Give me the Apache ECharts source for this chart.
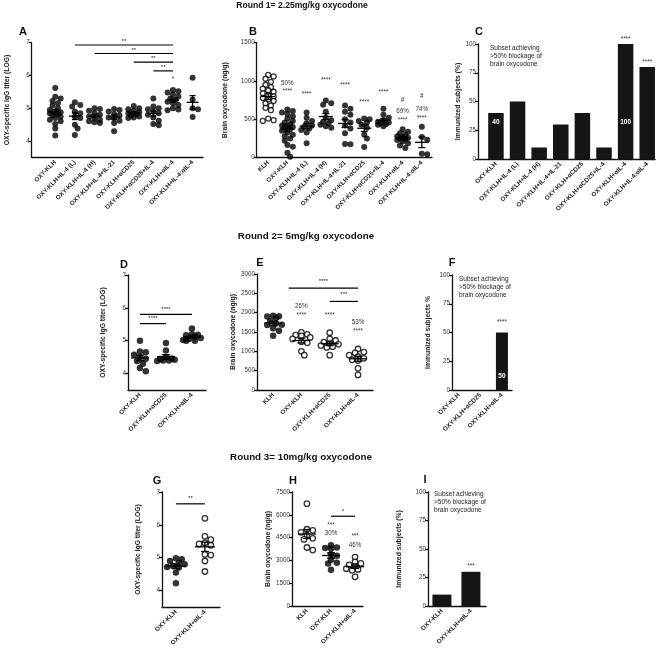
<!DOCTYPE html>
<html><head><meta charset="utf-8">
<script src="https://cdn.jsdelivr.net/npm/echarts@6/dist/echarts.min.js"></script>
<style>html,body{margin:0;padding:0;background:#fff}#c{width:659px;height:649px}</style>
</head><body><div id="c"></div><script>
// ---------------- DATA ----------------
const catsA = ['OXY-KLH','OXY-KLH+IL-4 (L)','OXY-KLH+IL-4 (H)','OXY-KLH+IL-4+IL-21','OXY-KLH+αCD25','OXY-KLH+αCD25+IL-4','OXY-KLH+αIL-4','OXY-KLH+IL-4:αIL-4'];
const titerA = [
  [5.62,5.35,5.3,5.22,5.15,5.08,5.0,4.95,4.9,4.88,4.85,4.82,4.78,4.74,4.7,4.65,4.6,4.52,4.38,4.17],
  [5.18,5.1,5.05,4.9,4.85,4.75,4.7,4.5,4.38,4.18],
  [5.0,4.98,4.92,4.85,4.8,4.75,4.7,4.65,4.6,4.57,4.55],
  [4.98,4.95,4.9,4.82,4.78,4.72,4.7,4.62,4.55,4.3],
  [5.07,5.0,4.97,4.92,4.88,4.85,4.82,4.78,4.75,4.72,4.7],
  [5.3,5.05,5.0,4.97,4.9,4.85,4.8,4.72,4.62,4.52,4.48],
  [5.56,5.52,5.48,5.42,5.36,5.3,5.25,5.2,5.15,5.1,5.0,4.96,4.94],
  [5.93,5.27,5.0,4.97,4.73]
];
const bracketsA = [[1,6,6.93,'**'],[2,6,6.67,'**'],[4,6,6.41,'**'],[5,6,6.14,'**']];
const annotA = [[6,5.88,'*']];

const catsB = ['KLH','OXY-KLH','OXY-KLH+IL-4 (L)','OXY-KLH+IL-4 (H)','OXY-KLH+IL-4+IL-21','OXY-KLH+αCD25','OXY-KLH+αCD25+IL-4','OXY-KLH+αIL-4','OXY-KLH+IL-4:αIL-4'];
const oxyB = [
  [1080,1060,1030,990,950,920,900,880,860,840,820,800,780,760,740,710,680,650,620,510,490,480],
  [630,610,590,570,540,510,480,460,440,420,410,400,390,370,350,330,300,280,250,220,165,143,65,13],
  [590,520,480,450,420,400,380,360,330,190],
  [745,710,690,600,520,490,470,450,430,410,390],
  [680,640,600,560,500,460,420,380,320,180,175],
  [510,500,480,460,430,390,300,250,140],
  [640,560,520,490,470,460,450,440,430,410],
  [370,340,320,300,280,270,260,250,240,230,210,190,160,125],
  [404,270,235,50,45]
];
const annotB = [[1,970,'50%'],[1,861,'****'],[2,830,'****'],[3,1004,'****'],[4,939,'****'],[5,717,'****'],[6,848,'****'],[7,752,'#'],[7,609,'69%'],[7,491,'****'],[8,796,'#'],[8,635,'74%'],[8,517,'****']];

const catsC = catsA;
const pctC = [40,50,10,30,40,10,100,80];
const annotC = [[0,32,'40','w'],[6,32,'100','w'],[6,104,'****'],[7,84.5,'****']];

const catsD = ['OXY-KLH','OXY-KLH+αCD25','OXY-KLH+αIL-4'];
const titerD = [
  [5.0,4.67,4.65,4.57,4.5,4.45,4.38,4.3,4.17,4.07],
  [4.93,4.7,4.5,4.46,4.44,4.42,4.4,4.4,4.38],
  [5.37,5.2,5.18,5.17,5.12,5.08,5.05,5.02,5.0,5.0]
];
const bracketsD = [[0,1,5.52,'****'],[0,2,5.8,'****']];

const catsE = ['KLH','OXY-KLH','OXY-KLH+αCD25','OXY-KLH+αIL-4'];
const oxyE = [
  [1920,1910,1900,1860,1780,1720,1690,1680,1600,1530,1400],
  [1490,1440,1420,1400,1360,1320,1250,1220,1000,900],
  [1480,1320,1280,1240,1200,1180,1150,1120,1100,900],
  [1060,980,960,900,860,820,780,760,560,390]
];
const bracketsE = [[0.55,3,2637,'****'],[2,3,2291,'***']];
const annotE = [[1,2178,'26%'],[1,1945,'****'],[2,1945,'****'],[3,1755,'53%'],[3,1513,'****']];

const catsF = ['OXY-KLH','OXY-KLH+αCD25','OXY-KLH+αIL-4'];
const pctF = [0,0,50];
const annotF = [[2,59,'****'],[2,12,'50','w']];

const catsG = ['OXY-KLH','OXY-KLH+αIL-4'];
const titerG = [
  [4.98,4.95,4.9,4.85,4.8,4.75,4.72,4.7,4.55,4.22],
  [6.2,5.65,5.55,5.45,5.42,5.38,5.1,5.08,4.9,4.58]
];
const bracketsG = [[0,1,6.64,'**']];

const catsH = ['KLH','OXY-KLH','OXY-KLH+αIL-4'];
const oxyH = [
  [6730,5050,4980,4850,4650,4450,4380,3850,3680],
  [4000,3850,3820,3780,3400,3300,3050,2850,2800,2380],
  [3220,2900,2800,2700,2600,2500,2450,2400,2350,1920]
];
const bracketsH = [[1,2,5905,'*']];
const annotH = [[1,5315,'***'],[1,4768,'30%'],[2,4593,'***'],[2,4002,'46%']];

const catsI = ['OXY-KLH','OXY-KLH+αIL-4'];
const pctI = [10,30];
const annotI = [[1,35,'***']];

const roundTitles = ['Round 1= 2.25mg/kg oxycodone','Round 2= 5mg/kg oxycodone','Round 3= 10mg/kg oxycodone'];
const subsetText = 'Subset achieving\n>50% blockage of\nbrain oxycodone';
const titerName = 'OXY-specific IgG titer (LOG)';
const oxyName = 'Brain oxycodone (ng/g)';

// ---------------- LAYOUT ----------------
const FONT = '"Liberation Sans", Arial, Helvetica, sans-serif';
const panels = [
  {L:'A',kind:'dot',cats:catsA,groups:titerA,open:[0,0,0,0,0,0,0,0],yName:titerName,left:31.7,top:42.7,width:171.3,height:114.7,xMin:-1.2,xMax:7.53,yMin:3.5,yMax:7,yTicks:[4,5,6,7],nameGap:21,dot:6,spread:8,mh:6,ch:3,brackets:bracketsA,bGap:3.5,annots:annotA,letter:[23,32]},
  {L:'B',kind:'dot',cats:catsB,groups:oxyB,open:[1,0,0,0,0,0,0,0,0],yName:oxyName,left:256.7,top:42.7,width:175.3,height:115,xMin:-0.6,xMax:8.53,yMin:0,yMax:1500,interval:500,nameGap:28,dot:6,spread:8,mh:7,ch:3.5,brackets:[],annots:annotB,letter:[253,32]},
  {L:'C',kind:'bar',cats:catsC,vals:pctC,yName:'Immunized subjects (%)',left:478,top:44,width:177,height:115,xMin:-0.83,xMax:7.36,yMin:0,yMax:100,interval:25,nameGap:14,barW:15.5,annots:annotC,letter:[479,32],subset:[490,48]},
  {L:'D',kind:'dot',cats:catsD,groups:titerD,open:[0,0,0],yName:titerName,left:128,top:275,width:78,height:115,xMin:-0.46,xMax:2.54,yMin:3.5,yMax:7,yTicks:[4,5,6,7],nameGap:21,dot:6.5,spread:9,mh:9,ch:4,brackets:bracketsD,bGap:5,annots:[],letter:[124,265]},
  {L:'E',kind:'dot',cats:catsE,groups:oxyE,open:[0,1,1,1],yName:oxyName,left:257,top:274,width:116,height:116,xMin:-0.57,xMax:3.53,yMin:0,yMax:3000,interval:500,nameGap:20,dot:6.5,spread:11,mh:9,ch:4,brackets:bracketsE,bGap:7,annots:annotE,letter:[260,263]},
  {L:'F',kind:'bar',cats:catsF,vals:pctF,yName:'Immunized subjects %',left:452,top:275,width:60,height:115,xMin:-0.33,xMax:2.47,yMin:0,yMax:100,interval:25,nameGap:20,barW:12,annots:annotF,letter:[452,263],subset:[459,279]},
  {L:'G',kind:'dot',cats:catsG,groups:titerG,open:[0,1],yName:titerName,left:162,top:492,width:58,height:115,xMin:-0.48,xMax:1.52,yMin:3.5,yMax:7,yTicks:[4,5,6,7],nameGap:20,dot:6.5,spread:11,mh:10,ch:4,brackets:bracketsG,bGap:5.5,annots:[],letter:[157,481]},
  {L:'H',kind:'dot',cats:catsH,groups:oxyH,open:[1,0,1],yName:oxyName,left:292,top:492,width:71,height:114,xMin:-0.62,xMax:2.33,yMin:0,yMax:7500,interval:1500,nameGap:20,dot:6.5,spread:10,mh:9,ch:4,brackets:bracketsH,bGap:5,annots:annotH,letter:[293,481]},
  {L:'I',kind:'bar',cats:catsI,vals:pctI,yName:'Immunized subjects (%)',left:428,top:492,width:58,height:114,xMin:-0.48,xMax:1.52,yMin:0,yMax:100,interval:25,nameGap:25,barW:19,annots:annotI,letter:[425,480],subset:[434,494]}
];

// beeswarm-like horizontal spreading computed from the values (limited width, overlaps allowed)
function swarm(vals, idx, pxX, pxY, d, maxHalf) {
  const order = vals.map((v,i)=>i).sort((a,b)=>vals[b]-vals[a]);
  const placed = [], out = new Array(vals.length);
  const thr = d*0.72, step = d*0.45;
  const cands = [0];
  for (let k=1; k*step<=maxHalf; k++) { cands.push(k*step, -k*step); }
  for (const i of order) {
    const py = vals[i]*pxY;
    let best = 0, bestD = -1;
    for (const c of cands) {
      let md = Infinity;
      for (const p of placed) md = Math.min(md, Math.hypot(p.dx-c, p.py-py));
      if (md >= thr) { best = c; bestD = Infinity; break; }
      if (md > bestD) { bestD = md; best = c; }
    }
    placed.push({dx:best, py});
    out[i] = [idx + best/pxX, vals[i]];
  }
  return out;
}
function meanSem(v){
  const n=v.length, m=v.reduce((a,b)=>a+b,0)/n;
  const sd=Math.sqrt(v.reduce((a,b)=>a+(b-m)**2,0)/(n-1));
  return [m, sd/Math.sqrt(n)];
}

const axisLineStyle = {color:'#111', width:1.3};
const option = {animation:false, backgroundColor:'#fff', grid:[], xAxis:[], yAxis:[], series:[], graphic:[]};

panels.forEach((p, gi) => {
  option.grid.push({left:p.left, top:p.top, width:p.width, height:p.height, containLabel:false});
  const cats = p.cats;
  option.xAxis.push({type:'value', gridIndex:gi, min:p.xMin, max:p.xMax, splitLine:{show:false},
    axisLine:{show:true, onZero:false, lineStyle:axisLineStyle}, axisTick:{show:false},
    axisLabel:{customValues:cats.map((c,i)=>i), formatter:v=>cats[Math.round(v)]||'', rotate:45,
      fontSize:6.3, fontWeight:'bold', fontFamily:FONT, color:'#1a1a1a', margin:4}});
  const ya = {type:'value', gridIndex:gi, min:p.yMin, max:p.yMax, splitLine:{show:false},
    axisLine:{show:true, onZero:false, lineStyle:axisLineStyle},
    axisTick:{show:true, length:3, lineStyle:axisLineStyle},
    axisLabel:{fontSize:6.3, fontFamily:FONT, color:'#333', margin:2, formatter:v=>String(v)},
    name:p.yName, nameLocation:'middle', nameRotate:90, nameGap:p.nameGap,
    nameTextStyle:{fontSize:6.8, fontWeight:'bold', fontFamily:FONT, color:'#1a1a1a'}};
  if (p.yTicks) { ya.axisLabel.customValues = p.yTicks; ya.axisTick.customValues = p.yTicks; }
  else ya.interval = p.interval;
  option.yAxis.push(ya);

  const pxX = p.width/(p.xMax-p.xMin), pxY = p.height/(p.yMax-p.yMin);
  if (p.kind === 'dot') {
    p.groups.forEach((g, i) => {
      const open = p.open[i];
      option.series.push({type:'scatter', xAxisIndex:gi, yAxisIndex:gi, silent:true,
        data: swarm(g, i, pxX, pxY, p.dot, p.spread), symbol:'circle', symbolSize: open ? p.dot-1 : p.dot,
        itemStyle: open ? {color:'#fff', borderColor:'#000', borderWidth:1.3} : {color:'#000'}});
    });
    const ms = p.groups.map((g,i)=>{const r=meanSem(g); return [i, r[0], r[1]];});
    option.series.push({type:'custom', xAxisIndex:gi, yAxisIndex:gi, silent:true, data:ms, z:5,
      renderItem:(params, api)=>{
        const x=api.value(0), m=api.value(1), s=api.value(2);
        const c=api.coord([x,m]), t=api.coord([x,m+s]), b=api.coord([x,m-s]);
        const st={stroke:'#000', lineWidth:1.3};
        return {type:'group', children:[
          {type:'line', shape:{x1:c[0]-p.mh,y1:c[1],x2:c[0]+p.mh,y2:c[1]}, style:st},
          {type:'line', shape:{x1:t[0],y1:t[1],x2:b[0],y2:b[1]}, style:st},
          {type:'line', shape:{x1:t[0]-p.ch,y1:t[1],x2:t[0]+p.ch,y2:t[1]}, style:st},
          {type:'line', shape:{x1:b[0]-p.ch,y1:b[1],x2:b[0]+p.ch,y2:b[1]}, style:st}]};
      }});
  } else {
    option.series.push({type:'bar', xAxisIndex:gi, yAxisIndex:gi, silent:true, barWidth:p.barW,
      data:p.vals.map((v,i)=>[i,v]), itemStyle:{color:'#151515'}});
  }
  if (p.brackets && p.brackets.length) {
    const br = p.brackets;
    option.series.push({type:'custom', xAxisIndex:gi, yAxisIndex:gi, silent:true, z:6,
      data:br.map(b=>[b[0],b[1],b[2]]),
      renderItem:(params, api)=>{
        const a=api.coord([api.value(0),api.value(2)]), e=api.coord([api.value(1),api.value(2)]);
        return {type:'group', children:[
          {type:'line', shape:{x1:a[0],y1:a[1],x2:e[0],y2:e[1]}, style:{stroke:'#000', lineWidth:1.2}},
          {type:'text', x:(a[0]+e[0])/2, y:a[1]-p.bGap, style:{text:br[params.dataIndex][3], fontSize:6, fontFamily:FONT, fill:'#222', align:'center', verticalAlign:'middle'}}]};
      }});
  }
  if (p.annots && p.annots.length) {
    const an = p.annots;
    option.series.push({type:'custom', xAxisIndex:gi, yAxisIndex:gi, silent:true, z:7,
      data:an.map(a=>[a[0],a[1]]),
      renderItem:(params, api)=>{
        const c=api.coord([api.value(0),api.value(1)]);
        const a=an[params.dataIndex], w=a[3]==='w';
        return {type:'text', x:c[0], y:c[1], style:{text:a[2], fontSize:w?6.5:6.3, fontWeight:w?'bold':'normal', fontFamily:FONT, fill:w?'#fff':'#333', align:'center', verticalAlign:'middle'}};
      }});
  }
  option.graphic.push({type:'text', x:p.letter[0], y:p.letter[1], style:{text:p.L, fontSize:11, fontWeight:'bold', fontFamily:FONT, fill:'#111', align:'center', verticalAlign:'middle'}});
  if (p.subset) option.graphic.push({type:'text', x:p.subset[0], y:p.subset[1]-3.5, style:{text:subsetText, fontSize:6.5, lineHeight:7.7, fontFamily:FONT, fill:'#222', align:'left', verticalAlign:'top'}});
});
[[302,6,8.6],[306,236,9.8],[301,457,9.8]].forEach((t,i)=>{
  option.graphic.push({type:'text', x:t[0], y:t[1], style:{text:roundTitles[i], fontSize:t[2], fontWeight:'bold', fontFamily:FONT, fill:'#111', align:'center', verticalAlign:'middle'}});
});

const chart = echarts.init(document.getElementById('c'), null, {renderer:'canvas'});
chart.setOption(option);
</script></body></html>
